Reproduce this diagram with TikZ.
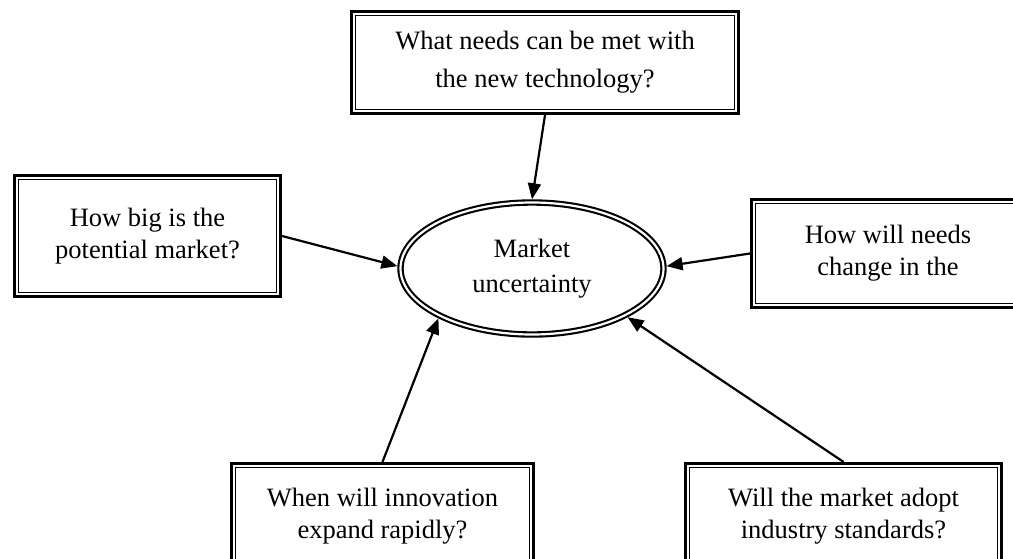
\documentclass[tikz,border=0pt]{standalone}
\usepackage{fontspec}
\setmainfont{Liberation Serif}
\usetikzlibrary{arrows.meta,shapes.geometric}

% inner thin rule of a double-framed question box
\newcommand{\innerframe}[1]{%
  \draw[line width=1.3pt]
    ([shift={(5.6pt,-5.6pt)}]#1.north west) rectangle
    ([shift={(-5.6pt,5.6pt)}]#1.south east);}

\begin{document}
\begin{tikzpicture}[x=1pt,y=-1pt,
  qbox/.style={draw, line width=3.2pt, inner sep=0pt, outer sep=1.6pt,
    align=center, font=\fontsize{26.5}{32}\selectfont},
  hub/.style={ellipse, draw, line width=2.1pt, double, double distance=2.2pt,
    inner sep=0pt, outer sep=3.2pt, minimum width=263pt, minimum height=132pt,
    align=center, font=\fontsize{26.5}{35}\selectfont},
  feed/.style={line width=2.2pt, -{Triangle[length=16pt,width=13pt]}}]

\useasboundingbox (0,0) rectangle (1013,558);
\clip (0,0) rectangle (1013,558);

% central concept
\node[hub] (m) at (532,268.5) {Market\\uncertainty};

% surrounding questions
\node[qbox, minimum width=387pt, minimum height=102pt,
      font=\fontsize{26.5}{38}\selectfont] (tq) at (545,62.5)
  {What needs can be met with\\the new technology?};
\node[qbox, minimum width=266pt, minimum height=121pt] (lq) at (147.5,236)
  {How big is the\\potential market?};
\node[qbox, minimum width=273pt, minimum height=108pt] (rq) at (888,253.5)
  {How will needs\\change in the};
\node[qbox, minimum width=302pt, minimum height=105pt] (blq) at (382.5,516)
  {When will innovation\\expand rapidly?};
\node[qbox, minimum width=316pt, minimum height=105pt] (brq) at (843.5,516)
  {Will the market adopt\\industry standards?};

\innerframe{tq}
\innerframe{lq}
\innerframe{rq}
\innerframe{blq}
\innerframe{brq}

% influences on market uncertainty
\draw[feed] (tq.south) -- (m.90);
\draw[feed] (lq.east) -- (m.179);
\draw[feed] (rq.west) -- (m.1);
\draw[feed] (blq.north) -- (m.208);
\draw[feed] (brq.north) -- (m.333);
\end{tikzpicture}
\end{document}
